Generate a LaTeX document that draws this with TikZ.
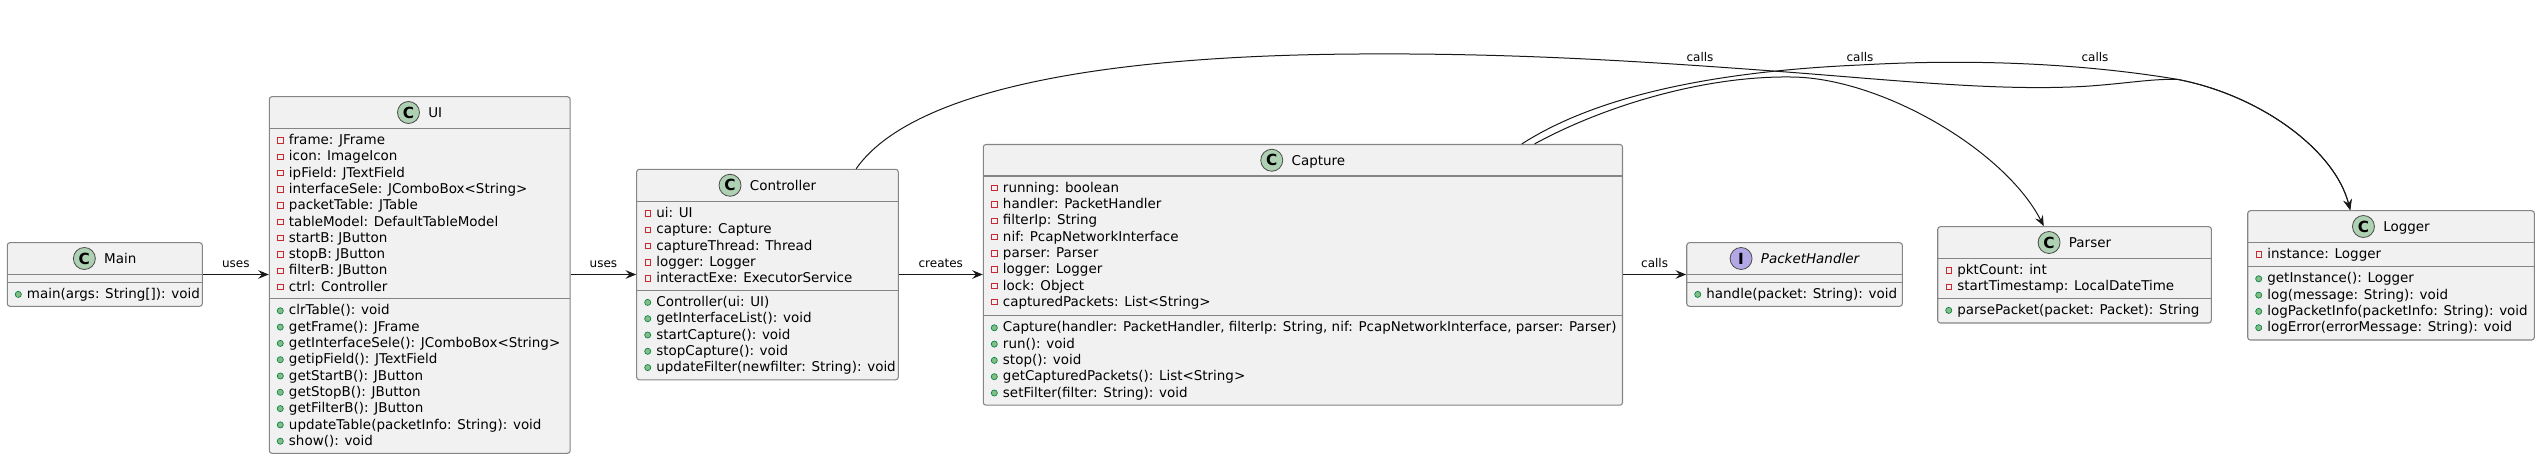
\documentclass[tikz,border=0pt]{standalone}
\usepackage{fontspec}
\setmainfont{DejaVu Sans}
\usetikzlibrary{arrows.meta,fit}
\definecolor{boxfill}{HTML}{F1F1F1}
\definecolor{boxline}{HTML}{858585}
\definecolor{arrline}{HTML}{181818}
\definecolor{classgreen}{HTML}{ADD1B2}
\definecolor{ifacepurple}{HTML}{B4A7E5}
\definecolor{iconline}{HTML}{4A4A4A}
\definecolor{privred}{HTML}{C82930}
\definecolor{pubgreen}{HTML}{84BE84}
\definecolor{publine}{HTML}{038048}
\begin{document}
\begin{tikzpicture}[x=0.75pt,y=-0.75pt]
\tikzstyle{classbox}=[draw=boxline,fill=boxfill,line width=0.8pt,rounded corners=2pt,inner sep=0pt]
\tikzstyle{sepline}=[draw=boxline,line width=0.8pt]
\tikzstyle{title}=[inner sep=0pt,text height=7.3pt,text depth=0pt,font=\fontsize{10.1pt}{12pt}\selectfont]
\tikzstyle{cicon}=[circle,draw=iconline,fill=classgreen,line width=0.6pt,minimum size=16.5pt,inner sep=0pt,anchor=west,font=\fontsize{11.5pt}{12pt}\selectfont\bfseries]
\tikzstyle{iicon}=[cicon,fill=ifacepurple]
\tikzstyle{member}=[anchor=base west,inner sep=0pt,font=\fontsize{10.1pt}{12pt}\selectfont]
\tikzstyle{priv}=[draw=privred,line width=0.6pt]
\tikzstyle{pub}=[draw=publine,fill=pubgreen,line width=0.5pt]
\tikzstyle{arr}=[draw=arrline,line width=0.75pt,-{Stealth[length=8pt,width=6.5pt,inset=3pt]}]
\tikzstyle{lbl}=[inner sep=0pt,text height=7pt,text depth=0pt,font=\fontsize{9pt}{10pt}\selectfont]
\useasboundingbox (0,0) rectangle (2540,459);

\node[classbox,fit={(7.3,242.7) (202.3,306.3)}] (main) {};
\draw[sepline] (7.3,274.3) -- (202.3,274.3);
\draw[sepline] (7.3,282.3) -- (202.3,282.3);
\node[title] (maint) at (104.8,258.5) {\hspace*{23.25pt}Main};
\node[cicon] at (maint.west) {C};
\node[member] at (26.7,298.6) {main(args: String[]): void};
\draw[pub] (18.3,294.4) circle[radius=2.3pt];

\node[classbox,fit={(269.3,96.7) (570.2,453.3)}] (ui) {};
\draw[sepline] (269.3,128.3) -- (570.2,128.3);
\draw[sepline] (269.3,298.7) -- (570.2,298.7);
\node[title] (uit) at (419.75,112.5) {\hspace*{23.25pt}UI};
\node[cicon] at (uit.west) {C};
\foreach \m [count=\i] in {frame: JFrame,icon: ImageIcon,ipField: JTextField,interfaceSele: JComboBox<String>,packetTable: JTable,tableModel: DefaultTableModel,startB: JButton,stopB: JButton,filterB: JButton,ctrl: Controller}{
  \node[member] at (288.7,128.3+16.3*\i) {\m};
  \draw[priv] (277.6,126.8+16.3*\i) rectangle +(5.4,-5.4);
}
\foreach \m [count=\i] in {clrTable(): void,getFrame(): JFrame,getInterfaceSele(): JComboBox<String>,getipField(): JTextField,getStartB(): JButton,getStopB(): JButton,getFilterB(): JButton,updateTable(packetInfo: String): void,show(): void}{
  \node[member] at (288.7,298.7+16.3*\i) {\m};
  \draw[pub] (280.3,294.5+16.3*\i) circle[radius=2.3pt];
}

\node[classbox,fit={(636.7,169.3) (898.3,379.8)}] (ctrl) {};
\draw[sepline] (636.7,201.3) -- (898.3,201.3);
\draw[sepline] (636.7,290.3) -- (898.3,290.3);
\node[title] (ctrlt) at (767.5,185.3) {\hspace*{23.25pt}Controller};
\node[cicon] at (ctrlt.west) {C};
\foreach \m [count=\i] in {ui: UI,capture: Capture,captureThread: Thread,logger: Logger,interactExe: ExecutorService}{
  \node[member] at (656.1,201.3+16.3*\i) {\m};
  \draw[priv] (645,199.8+16.3*\i) rectangle +(5.4,-5.4);
}
\foreach \m [count=\i] in {Controller(ui: UI),getInterfaceList(): void,startCapture(): void,stopCapture(): void,updateFilter(newfilter: String): void}{
  \node[member] at (656.1,290.3+16.3*\i) {\m};
  \draw[pub] (647.7,286.1+16.3*\i) circle[radius=2.3pt];
}

\node[classbox,fit={(983.3,144.5) (1622.5,405.2)}] (capture) {};
\draw[sepline] (983.3,176) -- (1622.5,176);
\draw[sepline] (983.3,315.7) -- (1622.5,315.7);
\node[title] (capturet) at (1302.9,160.25) {\hspace*{23.25pt}Capture};
\node[cicon] at (capturet.west) {C};
\foreach \m [count=\i] in {running: boolean,handler: PacketHandler,filterIp: String,nif: PcapNetworkInterface,parser: Parser,logger: Logger,lock: Object,capturedPackets: List<String>}{
  \node[member] at (1002.7,176+16.3*\i) {\m};
  \draw[priv] (991.6,174.5+16.3*\i) rectangle +(5.4,-5.4);
}
\foreach \m [count=\i] in {{Capture(handler: PacketHandler, filterIp: String, nif: PcapNetworkInterface, parser: Parser)},run(): void,stop(): void,getCapturedPackets(): List<String>,setFilter(filter: String): void}{
  \node[member] at (1002.7,315.7+16.3*\i) {\m};
  \draw[pub] (994.3,311.5+16.3*\i) circle[radius=2.3pt];
}

\node[classbox,fit={(1686.7,242.7) (1902.3,306.3)}] (handler) {};
\draw[sepline] (1686.7,274.3) -- (1902.3,274.3);
\draw[sepline] (1686.7,282.3) -- (1902.3,282.3);
\node[title] (handlert) at (1794.5,258.5) {\hspace*{23.25pt}\itshape PacketHandler};
\node[iicon] at (handlert.west) {I};
\node[member] at (1706.1,298.6) {handle(packet: String): void};
\draw[pub] (1697.7,294.4) circle[radius=2.3pt];

\node[classbox,fit={(1937.7,226.7) (2211.3,323)}] (parser) {};
\draw[sepline] (1937.7,258.3) -- (2211.3,258.3);
\draw[sepline] (1937.7,298.3) -- (2211.3,298.3);
\node[title] (parsert) at (2074.5,242.5) {\hspace*{23.25pt}Parser};
\node[cicon] at (parsert.west) {C};
\foreach \m [count=\i] in {pktCount: int,startTimestamp: LocalDateTime}{
  \node[member] at (1957.1,258.3+16.3*\i) {\m};
  \draw[priv] (1946,256.8+16.3*\i) rectangle +(5.4,-5.4);
}
\node[member] at (1957.1,314.6) {parsePacket(packet: Packet): String};
\draw[pub] (1948.7,310.4) circle[radius=2.3pt];

\node[classbox,fit={(2247.7,210.7) (2534.3,340)}] (logger) {};
\draw[sepline] (2247.7,242.3) -- (2534.3,242.3);
\draw[sepline] (2247.7,266.7) -- (2534.3,266.7);
\node[title] (loggert) at (2391,226.5) {\hspace*{23.25pt}Logger};
\node[cicon] at (loggert.west) {C};
\node[member] at (2267.1,258.6) {instance: Logger};
\draw[priv] (2256,257.1) rectangle +(5.4,-5.4);
\foreach \m [count=\i] in {getInstance(): Logger,log(message: String): void,logPacketInfo(packetInfo: String): void,logError(errorMessage: String): void}{
  \node[member] at (2267.1,266.7+16.3*\i) {\m};
  \draw[pub] (2258.7,262.5+16.3*\i) circle[radius=2.3pt];
}

\draw[arr] (main.east) -- (main.east -| ui.west) node[lbl,midway,above=5pt] {uses};
\draw[arr] (ui.east |- main.east) -- (main.east -| ctrl.west) node[lbl,midway,above=5pt] {uses};
\draw[arr] (ctrl.east |- main.east) -- (main.east -| capture.west) node[lbl,midway,above=5pt] {creates};
\draw[arr] (capture.east |- main.east) -- (main.east -| handler.west) node[lbl,midway,above=5pt] {calls};
\draw[arr] ([xshift=165pt]ctrl.north west) .. controls (890,120) and (1000,56) .. (1360,54)
  .. controls (1520,53) and (1650,62) .. (1773,71)
  .. controls (1890,79.6) and (2000,92) .. (2090,86)
  .. controls (2130,83) and (2150,79) .. (2177,79.3)
  .. controls (2260,95) and (2335,150) .. ([xshift=77.25pt]logger.north west)
  node[lbl,anchor=base] at (1700,62) {calls};
\draw[arr] ([xshift=404.25pt]capture.north west) .. controls (1590,100) and (1700,72) .. (1860,65)
  .. controls (2000,57) and (2110,68) .. (2177,79.3)
  .. controls (2260,95) and (2335,150) .. ([xshift=77.25pt]logger.north west)
  node[lbl,anchor=base] at (2095,62) {calls};
\draw[arr] ([xshift=413.8pt]capture.north west) .. controls (1600,108) and (1700,76) .. (1790,77)
  .. controls (1880,77) and (2005,150) .. ([xshift=79.95pt]parser.north west)
  node[lbl,anchor=base] at (1860,62) {calls};
\end{tikzpicture}
\end{document}
